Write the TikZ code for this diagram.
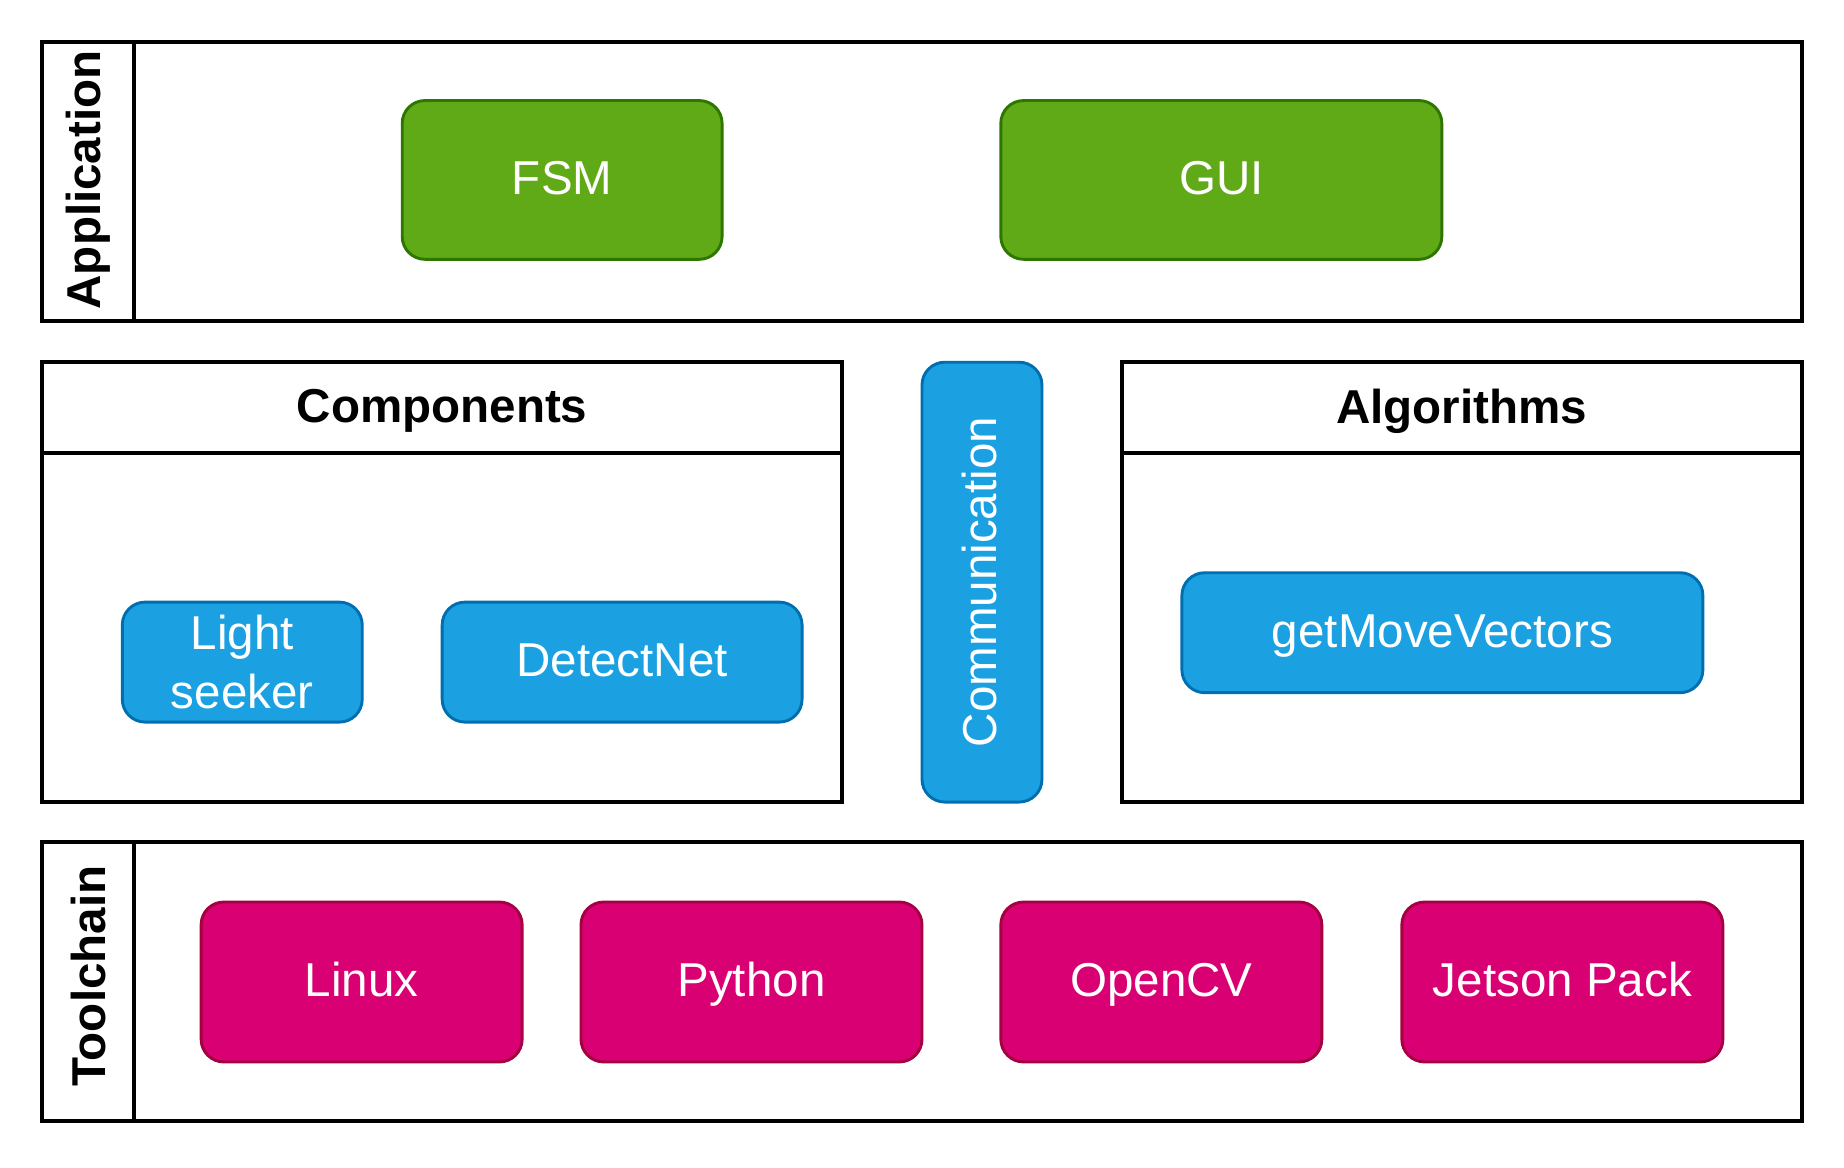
\documentclass[tikz,border=0pt]{standalone}
\usepackage{fontspec}
\setmainfont{Liberation Sans}
\usepackage{tikz}
\usetikzlibrary{shapes,arrows}
\usepackage{xcolor}
\definecolor{appfill}{HTML}{60A917}
\definecolor{appline}{HTML}{2D7600}
\definecolor{compfill}{HTML}{1BA1E2}
\definecolor{compline}{HTML}{006EAF}
\definecolor{toolfill}{HTML}{D80073}
\definecolor{toolline}{HTML}{A50040}

\tikzset{
	layer/.style={draw=black, line width=0.9pt},
	head/.style={font=\fontsize{11.5}{14}\selectfont\bfseries, inner sep=0pt},
	block/.style={rectangle, rounded corners=5.5pt, line width=0.7pt, text=white, align=center, font=\fontsize{11.5}{14.2}\selectfont, inner sep=0pt, text height=8.9pt, text depth=1.7pt},
	appblock/.style={block, fill=appfill, draw=appline, minimum height=1.35cm},
	compblock/.style={block, fill=compfill, draw=compline, minimum height=1.02cm},
	toolblock/.style={block, fill=toolfill, draw=toolline, minimum height=1.36cm, minimum width=2.73cm}
}

\begin{document}
\begin{tikzpicture}
		\useasboundingbox (0,0) rectangle (15.68,-9.93);
		% Application
		\draw[layer] (0.36,-0.36) rectangle (15.32,-2.73);
		\draw[layer] (1.14,-0.36) -- (1.14,-2.73);
		\node[head, rotate=90] (apphead) at (0.75,-1.53) {Application};
		\node[appblock, minimum width=2.72cm] (fsm) at (4.78,-1.53) {FSM};
		\node[appblock, minimum width=3.75cm] (gui) at (10.385,-1.53) {GUI};
		% Components
		\draw[layer] (0.36,-3.08) rectangle (7.16,-6.82);
		\draw[layer] (0.36,-3.85) -- (7.16,-3.85);
		\node[head] (comphead) at (3.76,-3.495) {Components};
		\node[compblock, minimum width=2.04cm, text height=, text depth=] (light) at (2.06,-5.63) {Light\\seeker};
		\node[compblock, minimum width=3.06cm] (detect) at (5.29,-5.63) {DetectNet};
		% Communication
		\node[compblock, rotate=90, minimum width=3.74cm, minimum height=1.02cm] (comm) at (8.35,-4.95) {Communication};
		% Algorithms
		\draw[layer] (9.54,-3.08) rectangle (15.32,-6.82);
		\draw[layer] (9.54,-3.85) -- (15.32,-3.85);
		\node[head] (alghead) at (12.43,-3.495) {Algorithms};
		\node[compblock, minimum width=4.43cm] (move) at (12.265,-5.38) {getMoveVectors};
		% Toolchain
		\draw[layer] (0.36,-7.16) rectangle (15.32,-9.53);
		\draw[layer] (1.14,-7.16) -- (1.14,-9.53);
		\node[head, rotate=90] (toolhead) at (0.75,-8.3) {Toolchain};
		\node[toolblock] (linux) at (3.075,-8.35) {Linux};
		\node[toolblock, minimum width=2.90cm] (python) at (6.39,-8.35) {Python};
		\node[toolblock] (opencv) at (9.875,-8.35) {OpenCV};
		\node[toolblock] (jetson) at (13.285,-8.35) {Jetson Pack};
\end{tikzpicture}
\end{document}
